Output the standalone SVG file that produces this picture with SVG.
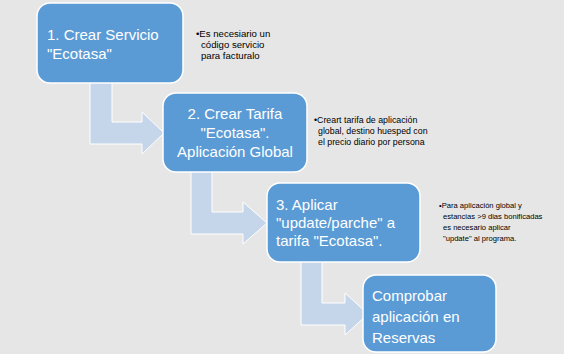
<svg xmlns="http://www.w3.org/2000/svg" width="567" height="360" viewBox="0 0 567 360">
<style>
.box{fill:#5b9bd5;stroke:#ffffff;stroke-width:1.5}
.arr{fill:#c5d5ea;stroke:#ffffff;stroke-width:1}
.t{font-family:"Liberation Sans",Arial,sans-serif;font-size:15px;fill:#ffffff}
.n{font-family:"Liberation Sans",Arial,sans-serif;font-size:9.6px;fill:#000000}
.n2{font-size:8.8px}
.n3{font-size:7.6px}
</style>
<rect x="0" y="0" width="567" height="360" fill="#ffffff"/>
<rect x="0" y="0" width="564" height="354" fill="#e6e6e6"/>
<g id="connectors">
<path class="arr" d="M90,80 L112,80 L112,122 L142,122 L142,112 L164,133 L142,154 L142,144 L90,144 Z"/>
<path class="arr" d="M191,170 L212,170 L212,212 L243,212 L243,202 L267,223 L243,244 L243,234 L191,234 Z"/>
<path class="arr" d="M301,260 L322,260 L322,303 L345,303 L345,293 L368,314 L345,335 L345,325 L301,325 Z"/>
</g>
<g id="node1">
<rect class="box" x="37" y="3" width="146" height="80" rx="13"/>
<text class="t" x="47" y="40">1. Crear Servicio</text>
<text class="t" x="47" y="59">"Ecotasa"</text>
</g>
<g id="note1">
<text class="n" x="196" y="37">•Es necesiario un</text>
<text class="n" x="201" y="48">código servicio</text>
<text class="n" x="201" y="59">para facturalo</text>
</g>
<g id="node2">
<rect class="box" x="163" y="93" width="144" height="79" rx="13"/>
<text class="t" x="235" y="119" text-anchor="middle">2. Crear Tarifa</text>
<text class="t" x="235" y="138" text-anchor="middle">"Ecotasa".</text>
<text class="t" x="235" y="157" text-anchor="middle">Aplicación Global</text>
</g>
<g id="note2">
<text class="n n2" x="314" y="123">•Creart tarifa de aplicación</text>
<text class="n n2" x="318" y="134">global, destino huesped con</text>
<text class="n n2" x="318" y="145">el precio diario por persona</text>
</g>
<g id="node3">
<rect class="box" x="267" y="183" width="153" height="79" rx="13"/>
<text class="t" x="276" y="210">3. Aplicar</text>
<text class="t" x="276" y="228">"update/parche" a</text>
<text class="t" x="276" y="246">tarifa "Ecotasa".</text>
</g>
<g id="note3">
<text class="n n3" x="439" y="208">•Para aplicación global y</text>
<text class="n n3" x="443" y="219">estancias &gt;9 dias bonificadas</text>
<text class="n n3" x="443" y="230">es necesario aplicar</text>
<text class="n n3" x="443" y="241">"update" al programa.</text>
</g>
<g id="node4">
<rect class="box" x="363" y="275" width="133" height="77" rx="13"/>
<text class="t" x="372" y="301">Comprobar</text>
<text class="t" x="372" y="322">aplicación en</text>
<text class="t" x="372" y="343">Reservas</text>
</g>
</svg>
